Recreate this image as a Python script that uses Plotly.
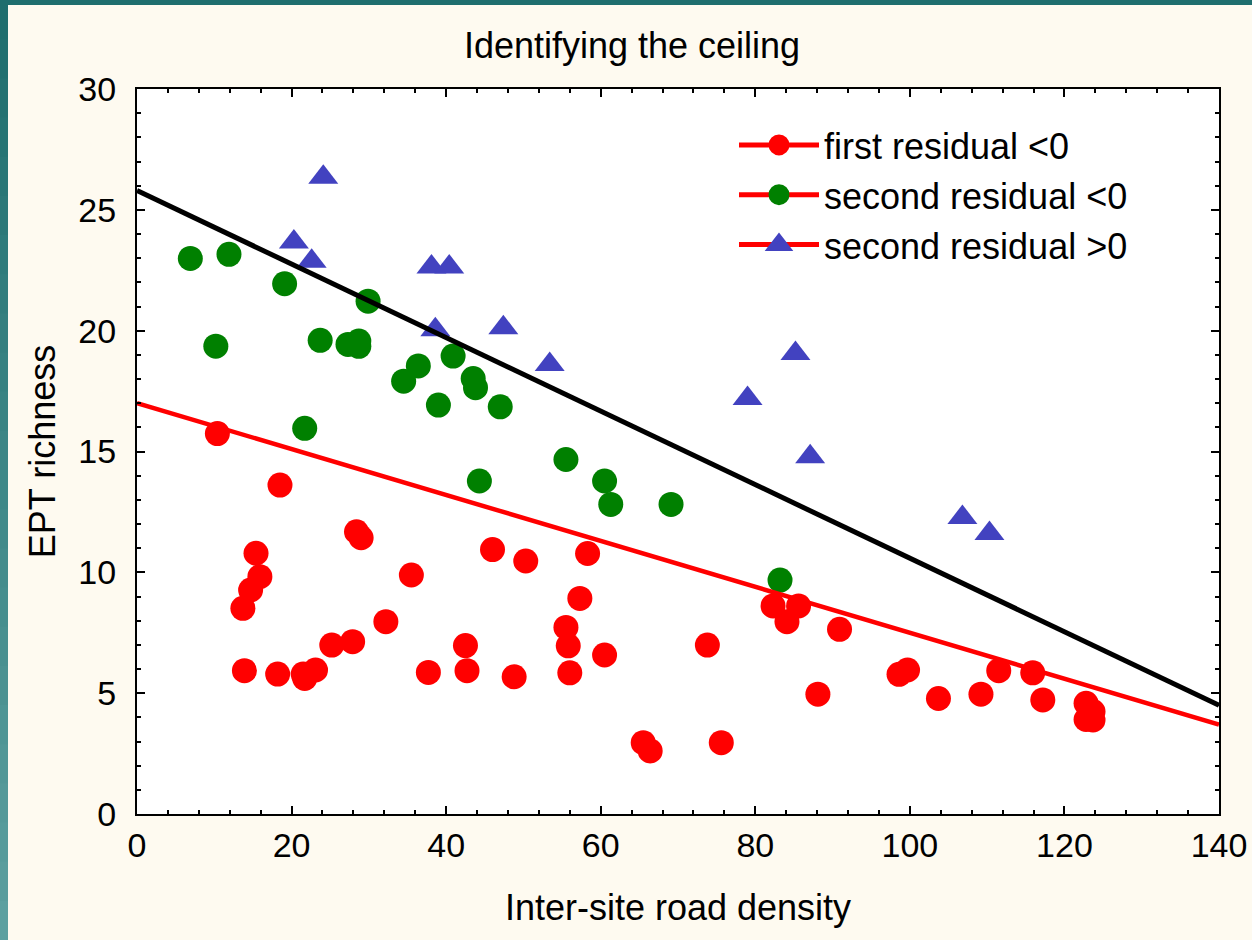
import plotly.graph_objects as go

# ---- data ----
red_x = [10.4, 18.5, 28.4, 29.0, 15.4, 15.9, 14.7, 13.7, 35.5, 32.2, 25.2, 27.9, 13.9, 18.2,
         21.5, 21.7, 23.1, 37.7, 42.5, 42.7, 48.8, 46.0, 50.3, 58.3, 57.3, 55.5, 55.8, 56.0,
         60.5, 65.5, 66.4, 75.6, 73.8, 82.3, 85.6, 84.1, 90.9, 88.1, 98.6, 99.7, 103.7, 109.2,
         111.5, 115.9, 117.2, 122.8, 123.7, 122.8, 123.7]
red_y = [15.74, 13.61, 11.68, 11.43, 10.79, 9.82, 9.27, 8.51, 9.89, 7.96, 6.99, 7.13, 5.93, 5.79,
         5.79, 5.61, 5.96, 5.86, 6.97, 5.93, 5.68, 10.94, 10.47, 10.78, 8.92, 7.72, 6.96, 5.84,
         6.58, 2.95, 2.61, 2.95, 6.99, 8.61, 8.61, 7.96, 7.64, 4.96, 5.78, 5.96, 4.78, 4.96,
         5.93, 5.84, 4.72, 4.58, 4.24, 3.91, 3.89]

green_x = [6.9, 11.9, 19.1, 29.9, 10.2, 23.7, 27.3, 28.7, 28.7, 36.4, 34.5, 40.9, 43.5, 43.8,
           39.0, 47.0, 21.7, 55.5, 44.3, 60.5, 61.3, 69.1, 83.2]
green_y = [22.99, 23.16, 21.94, 21.22, 19.36, 19.60, 19.43, 19.57, 19.35, 18.54, 17.91, 18.95,
           18.02, 17.64, 16.92, 16.85, 15.96, 14.67, 13.78, 13.78, 12.81, 12.81, 9.68]

blue_x = [24.1, 20.3, 22.6, 38.1, 40.4, 38.6, 47.4, 53.4, 85.2, 79.0, 87.1, 106.8, 110.3]
blue_y = [26.35, 23.67, 22.87, 22.63, 22.63, 20.04, 20.12, 18.6, 19.06, 17.19, 14.78, 12.27, 11.61]

ceiling_x = [0, 140]
ceiling_y = [25.8, 4.5]
fit_x = [0, 140]
fit_y = [17.0, 3.7]

legend_names = ["first residual <0", "second residual <0", "second residual >0"]

RED = "#ff0000"
GREEN = "#008000"
BLUE = "#4242c0"
CREAM = "#fefaf0"
FONT = "Arial, Liberation Sans, sans-serif"

fig = go.Figure()

fig.add_trace(go.Scatter(x=red_x, y=red_y, mode="markers", showlegend=False,
                         marker=dict(color=RED, size=25, symbol="circle")))
fig.add_trace(go.Scatter(x=green_x, y=green_y, mode="markers", showlegend=False,
                         marker=dict(color=GREEN, size=25, symbol="circle")))
fig.add_trace(go.Scatter(x=blue_x, y=blue_y, mode="markers", showlegend=False,
                         marker=dict(color=BLUE, size=26, symbol="triangle-up")))

fig.add_trace(go.Scatter(x=fit_x, y=fit_y, mode="lines", showlegend=False,
                         line=dict(color=RED, width=4.5)))
fig.add_trace(go.Scatter(x=ceiling_x, y=ceiling_y, mode="lines", showlegend=False,
                         line=dict(color="black", width=5)))

# legend entries
for name, col, sym in zip(legend_names, [RED, GREEN, BLUE], ["circle", "circle", "triangle-up"]):
    fig.add_trace(go.Scatter(x=[None], y=[None], mode="lines+markers", name=name,
                             line=dict(color=RED, width=5),
                             marker=dict(color=col, size=16, symbol=sym,
                                         line=dict(color=col, width=5))))

# teal border (approximate gradient)
shapes = []
W, H = 1252, 940
L, R, T, B = 137, 33, 89, 126
pw, ph = W - L - R, H - T - B
def px_to_paper_x(px):
    return (px - L) / pw
def py_to_paper_y(py):
    return (H - B - py) / ph
shapes.append(dict(type="rect", xref="paper", yref="paper", layer="below",
                   x0=px_to_paper_x(0), x1=px_to_paper_x(W), y0=py_to_paper_y(5), y1=py_to_paper_y(0),
                   fillcolor="#1f6e6e", line=dict(width=0)))
n = 24
for i in range(n):
    t = i / (n - 1)
    r = int(31 + (92 - 31) * t)
    g = int(110 + (160 - 110) * t)
    b = int(110 + (160 - 110) * t)
    shapes.append(dict(type="rect", xref="paper", yref="paper", layer="below",
                       x0=px_to_paper_x(0), x1=px_to_paper_x(8),
                       y0=py_to_paper_y(H * (i + 1) / n + 1), y1=py_to_paper_y(H * i / n),
                       fillcolor=f"rgb({r},{g},{b})", line=dict(width=0)))

axis_common = dict(showline=True, linecolor="black", linewidth=2, mirror="allticks",
                   ticks="inside", ticklen=8, tickwidth=2, tickcolor="black",
                   showgrid=False, zeroline=False, automargin=False,
                   tickfont=dict(family=FONT, size=34, color="black"))

fig.update_layout(
    width=W, height=H,
    margin=dict(l=L, r=R, t=T, b=B),
    paper_bgcolor=CREAM, plot_bgcolor="white",
    title=dict(text="Identifying the ceiling", x=632 / W, xanchor="center",
               y=1 - 45 / H, yanchor="middle", font=dict(family=FONT, size=36, color="black")),
    xaxis=dict(range=[0, 140], dtick=20, tick0=0,
               minor=dict(dtick=4, ticks="inside", ticklen=4, tickwidth=1.5, tickcolor="black"),
               title=dict(text="Inter-site road density", font=dict(family=FONT, size=36, color="black"),
                          standoff=32),
               **axis_common),
    yaxis=dict(range=[0, 30], dtick=5, tick0=0, ticklabelstandoff=12,
               minor=dict(dtick=1, ticks="inside", ticklen=4, tickwidth=1.5, tickcolor="black"),
               title=dict(text="EPT richness", font=dict(family=FONT, size=36, color="black"),
                          standoff=12),
               **axis_common),
    legend=dict(x=px_to_paper_x(734), y=py_to_paper_y(115), xanchor="left", yanchor="top",
                bgcolor="rgba(0,0,0,0)", font=dict(family=FONT, size=36, color="black"),
                itemwidth=80, tracegroupgap=0),
    shapes=shapes,
    showlegend=True,
)

fig.write_html("out.html", config={"displayModeBar": False},
               post_script="document.body.style.margin='0';document.body.style.overflow='hidden';")
